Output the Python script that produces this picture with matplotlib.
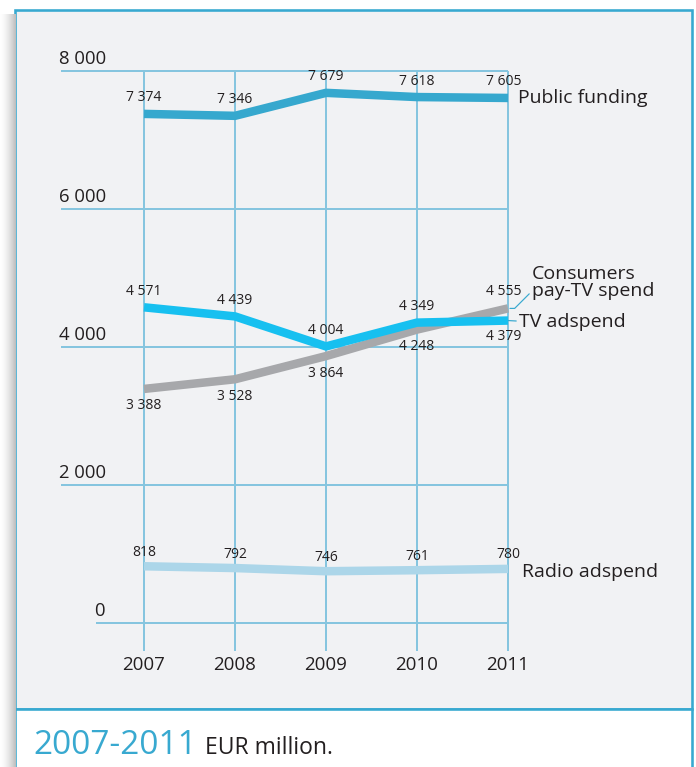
import matplotlib
matplotlib.use("Agg")
import matplotlib.pyplot as plt
import numpy as np
from matplotlib.patches import Rectangle

plt.rcParams['font.family'] = ['Open Sans', 'DejaVu Sans']

# ---------------- data ----------------
years = [2007, 2008, 2009, 2010, 2011]
public_funding = [7374, 7346, 7679, 7618, 7605]
tv_adspend = [4571, 4439, 4004, 4349, 4379]
consumers_paytv = [3388, 3528, 3864, 4248, 4555]
radio_adspend = [818, 792, 746, 761, 780]
y_ticks = [0, 2000, 4000, 6000, 8000]
y_tick_labels = ["0", "2 000", "4 000", "6 000", "8 000"]
series_names = ["Public funding", "Consumers\npay-TV spend", "TV adspend", "Radio adspend"]
title_years = "2007-2011"
title_unit = "EUR million."

# ---------------- style ----------------
W, H = 696, 767
PX = 0.72  # points per pixel at dpi 100
TXT = '#231f20'
BLUE = '#38a9d0'
GRID = '#86c5df'
C_PUBLIC = '#36a8ce'
C_TV = '#17c0f0'
C_PAY = '#a7a8ab'
C_RADIO = '#acd6e9'
PANEL = '#f1f2f4'


def fx(x):
    return x / W


def fy(y):
    return 1 - y / H


fig = plt.figure(figsize=(W / 100, H / 100), dpi=100)
fig.patch.set_facecolor('white')

# left shadow
sh = fig.add_axes([0, 0, fx(15), fy(14)], zorder=-5)
grad = np.linspace(0, 1, 64)[None, :] ** 1.6
sh.imshow(grad, aspect='auto', cmap=matplotlib.colors.LinearSegmentedColormap.from_list(
    'sh', ['#ffffff', '#bdbdbd']), extent=[0, 1, 0, 1])
sh.axis('off')

# panel & white strip
fig.patches.append(Rectangle((fx(15), fy(709)), fx(692) - fx(15), fy(10) - fy(709),
                             transform=fig.transFigure, facecolor=PANEL,
                             edgecolor=BLUE, lw=2.6 * PX, zorder=-10))
fig.patches.append(Rectangle((fx(15), fy(790)), fx(692) - fx(15), fy(709) - fy(790),
                             transform=fig.transFigure, facecolor='white',
                             edgecolor=BLUE, lw=2.6 * PX, zorder=-10, clip_on=False))

# ---------------- axes ----------------
left_px, right_px, top_px, bot_px = 61, 508, 70.7, 651
ax = fig.add_axes([fx(left_px), fy(bot_px), fx(right_px) - fx(left_px), fy(top_px) - fy(bot_px)],
                  zorder=5)
ax.set_facecolor('none')
ax.axis('off')
px_per_year = (508 - 144) / 4
px_per_unit = (622.7 - 70.7) / 8000
x0 = years[0] - (144 - left_px) / px_per_year
ymin = -(bot_px - 622.7) / px_per_unit
ax.set_xlim(x0, years[-1])
ax.set_ylim(ymin, y_ticks[-1])

# grid
for v, lab in zip(y_ticks, y_tick_labels):
    xs = x0 if v != 0 else years[0] - (144 - 96) / px_per_year
    ax.plot([xs, years[-1]], [v, v], color=GRID, lw=2 * PX, zorder=1, solid_capstyle='butt',
            clip_on=False)
    ax.annotate(lab, xy=(xs, v), xytext=(-2 * PX, 3 * PX), textcoords='offset points',
                ha='left', va='bottom', fontsize=13.3, color=TXT)
for yr in years:
    ax.plot([yr, yr], [ymin, y_ticks[-1]], color=GRID, lw=2 * PX, zorder=1, solid_capstyle='butt',
            clip_on=False)
    ax.annotate(str(yr), xy=(yr, 0), xytext=(0, -42 * PX), textcoords='offset points',
                ha='center', va='center', fontsize=13.5, color=TXT)

# lines
lw = 8.5 * PX
ax.plot(years, public_funding, color=C_PUBLIC, lw=lw, solid_capstyle='butt', zorder=3, clip_on=False)
ax.plot(years, consumers_paytv, color=C_PAY, lw=lw, solid_capstyle='butt', zorder=3, clip_on=False)
ax.plot(years, tv_adspend, color=C_TV, lw=lw, solid_capstyle='butt', zorder=4, clip_on=False)
ax.plot(years, radio_adspend, color=C_RADIO, lw=lw, solid_capstyle='butt', zorder=3, clip_on=False)


def fmt(v):
    return f"{v:,}".replace(",", " ")


def values(series, where, last_dx=-4, off=16):
    for i, (yr, v) in enumerate(zip(years, series)):
        dx = last_dx if i == len(years) - 1 else 0
        dy = off if where[i] == 'a' else -off
        ax.annotate(fmt(v), xy=(yr, v), xytext=(dx * PX, dy * PX), textcoords='offset points',
                    ha='center', va='center', fontsize=10, color=TXT, zorder=6)


values(public_funding, 'aaaaa')
values(tv_adspend, 'aaaa' + 'b', off=16)
values(consumers_paytv, 'bbbb' + 'a', off=17)
values(radio_adspend, 'aaaaa', last_dx=0, off=14)

# series labels
ax.annotate(series_names[0], xy=(years[-1], public_funding[-1]), xytext=(10 * PX, 0),
            textcoords='offset points', ha='left', va='center', fontsize=14, color=TXT,
            annotation_clip=False)
ax.annotate(series_names[2], xy=(years[-1], tv_adspend[-1]), xytext=(11 * PX, -1.5 * PX),
            textcoords='offset points', ha='left', va='center', fontsize=14, color=TXT,
            annotation_clip=False,
            arrowprops=dict(arrowstyle='-', color=BLUE, lw=1.2 * PX, shrinkA=0, shrinkB=0,
                            relpos=(0, 0.55)))
ax.annotate(series_names[1], xy=(years[-1] + 2 / px_per_year, consumers_paytv[-1]),
            xytext=(22 * PX, 26 * PX), textcoords='offset points', ha='left', va='center',
            fontsize=14, color=TXT, linespacing=0.95, annotation_clip=False,
            arrowprops=dict(arrowstyle='-', color=BLUE, lw=1.2 * PX, shrinkA=0, shrinkB=0,
                            relpos=(-0.01, 0.22), connectionstyle='angle,angleA=45,angleB=0,rad=0'))
ax.annotate(series_names[3], xy=(years[-1], radio_adspend[-1]), xytext=(14 * PX, -3 * PX),
            textcoords='offset points', ha='left', va='center', fontsize=14, color=TXT,
            annotation_clip=False)

# title strip
fig.text(fx(33), fy(754), title_years, color=BLUE, fontsize=24, va='baseline', ha='left')
fig.text(fx(205), fy(754), title_unit, color=TXT, fontsize=16.5, va='baseline', ha='left')

fig.savefig('out.png', dpi=100, facecolor='white')
